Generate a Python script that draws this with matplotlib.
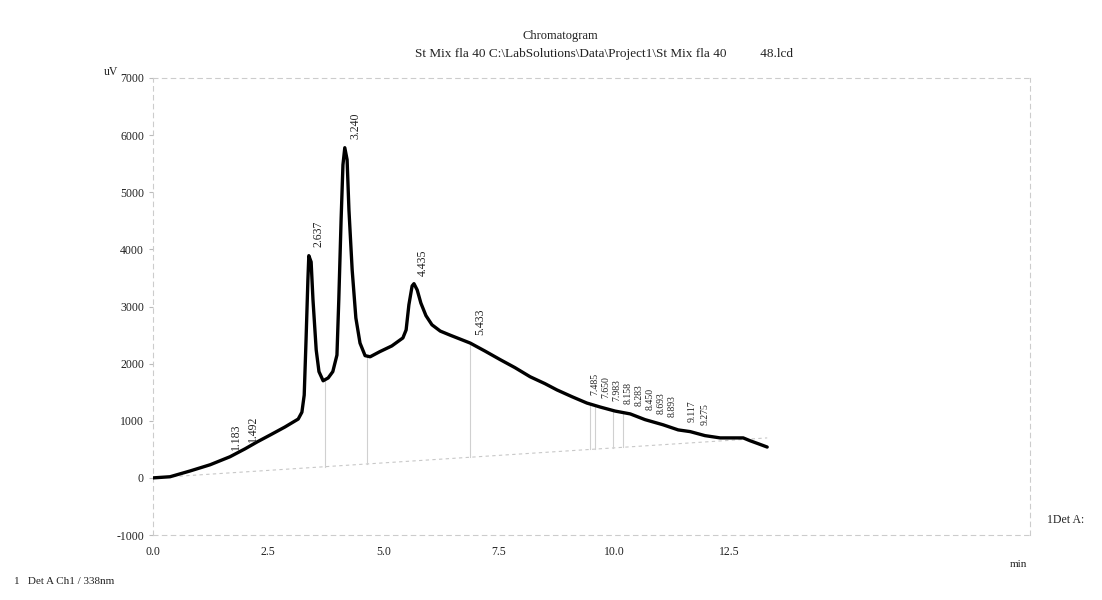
import matplotlib.pyplot as plt
import numpy as np

plt.rcParams['font.family'] = ['Liberation Serif', 'DejaVu Serif']
plt.rcParams['axes.unicode_minus'] = False

# kromatogram verisi (eksen birimleri: min, uV)
t = [0.00, 0.37, 0.80, 1.24, 1.67, 2.00, 2.26, 2.54, 2.86, 3.15, 3.23, 3.28,
     3.32, 3.36, 3.38, 3.43, 3.47, 3.54, 3.60, 3.69, 3.80, 3.90, 3.99, 4.03,
     4.08, 4.12, 4.16, 4.21, 4.25, 4.32, 4.40, 4.49, 4.60, 4.71, 4.92, 5.18,
     5.42, 5.49, 5.55, 5.62, 5.66, 5.73, 5.81, 5.92, 6.05, 6.23, 6.44, 6.66,
     6.88, 7.20, 7.53, 7.85, 8.18, 8.50, 8.76, 9.09, 9.41, 9.70, 10.02, 10.35,
     10.67, 11.06, 11.39, 11.65, 11.97, 12.30, 12.62, 12.80, 12.95, 13.12, 13.32]
signal = [0, 20, 120, 230, 370, 510, 630, 750, 890, 1030, 1150, 1450,
          2420, 3470, 3890, 3780, 3120, 2240, 1860, 1700, 1750, 1860, 2150, 3120,
          4520, 5480, 5780, 5570, 4690, 3640, 2800, 2360, 2140, 2120, 2210, 2310,
          2450, 2590, 3030, 3360, 3400, 3290, 3060, 2840, 2680, 2570, 2500, 2430,
          2360, 2220, 2070, 1930, 1770, 1650, 1540, 1420, 1310, 1240, 1170, 1120,
          1020, 930, 840, 810, 740, 700, 700, 700, 650, 600, 540]

# pik etiketleri
peak_labels = ["1.183", "1.492", "2.637", "3.240", "4.435", "5.433",
               "7.485", "7.650", "7.983", "8.158", "8.283", "8.450",
               "8.693", "8.893", "9.117", "9.275"]
peak_pos = [1.58, 1.95, 3.38, 4.16, 5.64, 6.88,
            9.40, 9.64, 9.88, 10.12, 10.36, 10.60,
            10.84, 11.08, 11.50, 11.78]

# taban cizgisi ve dusey ayirma cizgileri
base_t = [0.0, 13.32]
base_y = [0, 700]
drop_t = [3.73, 4.64, 6.88, 9.47, 9.58, 9.98, 10.20]

xticks = [0.0, 2.5, 5.0, 7.5, 10.0, 12.5]
yticks = [-1000, 0, 1000, 2000, 3000, 4000, 5000, 6000, 7000]

fig = plt.figure(figsize=(11.02, 6.0), dpi=100)
ax = fig.add_axes([0.1388, 0.1083, 0.7959, 0.7617])

ax.plot(t, signal, color='black', lw=2.4, solid_capstyle='round',
        solid_joinstyle='round', zorder=3)
ax.plot(base_t, base_y, color='#c8c8c8', lw=0.8, ls=(0, (3, 3)), zorder=1)
for d in drop_t:
    ax.plot([d, d], [np.interp(d, base_t, base_y), np.interp(d, t, signal)],
            color='#d0d0d0', lw=0.8, zorder=1)

for i, (lab, p) in enumerate(zip(peak_labels, peak_pos)):
    fs = 8.5 if i < 6 else 7
    ax.annotate(lab, (p, np.interp(p, t, signal)), xytext=(3, 6),
                textcoords='offset points', rotation=90, ha='left',
                va='bottom', fontsize=fs, color='#222222')

ax.set_xlim(0, 19.02)
ax.set_ylim(-1000, 7000)
ax.set_xticks(xticks)
ax.set_xticklabels(["%.1f" % v for v in xticks])
ax.set_yticks(yticks)
ax.tick_params(axis='both', length=3, color='#bbbbbb', labelsize=8.5,
               labelcolor='#222222')
ax.tick_params(axis='x', length=0, pad=8)
for s in ax.spines.values():
    s.set_color('#cccccc')
    s.set_linewidth(0.8)
    s.set_linestyle((0, (4, 4)))

fig.text(0.094, 0.875, "uV", fontsize=8.5, color='#222222')
fig.text(0.508, 0.935, "Chromatogram", ha='center', fontsize=9, color='#222222')
fig.text(0.548, 0.905,
         "St Mix fla 40 C:\\LabSolutions\\Data\\Project1\\St Mix fla 40          48.lcd",
         ha='center', fontsize=9.5, color='#222222')
fig.text(0.916, 0.055, "min", fontsize=8, color='#222222')
fig.text(0.950, 0.128, "1Det A:", fontsize=8.5, color='#222222')
fig.text(0.013, 0.027, "1   Det A Ch1 / 338nm", fontsize=8, color='#222222')

fig.savefig("out.png", dpi=100, facecolor='white')
